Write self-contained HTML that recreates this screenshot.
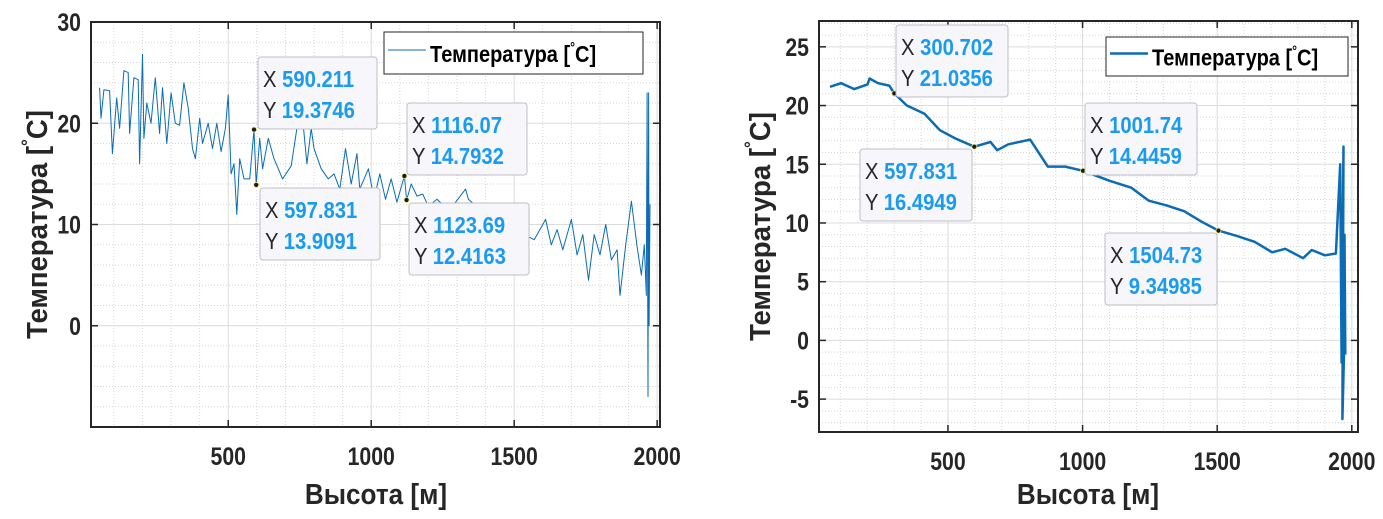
<!DOCTYPE html>
<html><head><meta charset="utf-8"><style>
body{margin:0;background:#fff;width:1383px;height:514px;overflow:hidden;font-family:"Liberation Sans",sans-serif}
svg text{font-family:"Liberation Sans",sans-serif}
</style></head><body>
<svg id="s" width="1383" height="514" xmlns="http://www.w3.org/2000/svg"></svg>
<script>
// Left chart data
const leftX=[50,55,65,85,95,110,120,135,150,155,170,185,190,200,205,215,230,245,260,270,285,300,315,330,345,360,375,385,400,410,430,445,460,475,490,500,510,520,530,540,555,575,590.211,597.831,610,620,640,660,690,720,740,760,775,790,800,825,850,870,890,910,930,950,960,990,1010,1030,1050,1070,1090,1116.07,1123.69,1140,1160,1180,1200,1230,1260,1290,1330,1340,1400,1450,1500,1570,1590,1610,1630,1650,1670,1700,1720,1740,1760,1780,1800,1820,1840,1860,1870,1890,1910,1920,1930,1945,1955,1962,1965,1968,1970,1972,1975];
const leftY=[23.5,20.5,23.3,23.2,17,22.5,19.5,25.2,25,19,24.5,24.3,16,26.8,18.5,22,20,24.5,19,23.5,18,23,20,19.8,24,21.5,17.5,16.5,20.5,18,20,17.5,20,17.2,19.5,22.8,15,16,11,16.5,14.5,14.5,19.3746,13.9091,18.5,15.5,18.5,16.5,14.5,15.8,19.5,20.5,16,19.5,17.5,15.5,14.5,15,13.5,17.5,14,17,13.5,15.5,12.5,15,12.5,14.5,12.2,14.7932,12.4163,14,12.8,13,11.8,12.5,11.7,12,13.5,12.5,11,10,9.5,8.5,9.5,10.5,8,9.5,7.5,10.5,7,9,4.5,9,7,10,6.5,7.5,3,8,12.3,10,7.8,5,8,3,23,-7,23,0,12];
const leftTipsX=[590.211,597.831,1116.07,1123.69];
const leftTipsY=[19.3746,13.9091,14.7932,12.4163];
const leftXTicks=[500,1000,1500,2000];
const leftYTicks=[0,10,20,30];
// Right chart data
const rightX=[62,103,152,201,209,240,282,300.702,347,413,470,527,597.831,658,683,724,805,871,936,1001.74,1099,1181,1246,1312,1377,1443,1504.73,1573,1639,1704,1753,1819,1851,1900,1941,1957,1962,1969,1965,1973,1973,1976];
const rightY=[21.6,21.9,21.4,21.8,22.3,21.9,21.7,21.0356,20.0,19.3,17.9,17.2,16.4949,16.9,16.2,16.7,17.1,14.8,14.8,14.4459,13.6,13.0,11.9,11.5,11.0,10.1,9.34985,8.9,8.4,7.5,7.8,7.0,7.7,7.25,7.4,15,-1.9,16.5,-6.7,0.7,9,-1.2];
const rightTipsX=[300.702,597.831,1001.74,1504.73];
const rightTipsY=[21.0356,16.4949,14.4459,9.34985];
const rightXTicks=[500,1000,1500,2000];
const rightYTicks=[-5,0,5,10,15,20,25];

const NS="http://www.w3.org/2000/svg";
const svg=document.getElementById('s');
function mk(tag,attrs,parent){const e=document.createElementNS(NS,tag);for(const k in attrs)e.setAttribute(k,attrs[k]);(parent||svg).appendChild(e);return e;}

function chart(cfg){
  const g=mk('g',{});
  
  
  const sx=v=>cfg.L+(v-cfg.x0)/(cfg.x1-cfg.x0)*(cfg.R-cfg.L);
  const sy=v=>cfg.B-(v-cfg.y0)/(cfg.y1-cfg.y0)*(cfg.B-cfg.T);
  mk('rect',{x:cfg.L,y:cfg.T,width:cfg.R-cfg.L,height:cfg.B-cfg.T,fill:'#fff'},g);
  for(let v=Math.ceil(cfg.x0/100)*100;v<=cfg.x1;v+=100){if(v%500===0)continue;const l=mk('line',{x1:sx(v),x2:sx(v),y1:cfg.T,y2:cfg.B,stroke:'#d6d6d6','stroke-width':1,'stroke-dasharray':'1,2'},g);}
  for(let v=Math.ceil(cfg.y0/cfg.ym)*cfg.ym;v<=cfg.y1;v+=cfg.ym){if(Math.abs(v%cfg.yM)<1e-9)continue;const l=mk('line',{x1:cfg.L,x2:cfg.R,y1:sy(v),y2:sy(v),stroke:'#d6d6d6','stroke-width':1,'stroke-dasharray':'1,2'},g);}
  cfg.xt.forEach(v=>{
    const l=mk('line',{x1:sx(v),x2:sx(v),y1:cfg.T,y2:cfg.B,stroke:'#dcdcdc','stroke-width':1},g);
    
    
    mk('line',{x1:sx(v),x2:sx(v),y1:cfg.B,y2:cfg.B-7,stroke:'#262626','stroke-width':1.5},g);
    mk('line',{x1:sx(v),x2:sx(v),y1:cfg.T,y2:cfg.T+7,stroke:'#262626','stroke-width':1.5},g);
    const t=mk('text',{x:0,y:0,'text-anchor':'middle','font-size':25,'font-weight':'bold',fill:'#262626',transform:'translate('+sx(v)+','+(cfg.B+38)+') scale(0.85,1)'},g);
    t.textContent=v;
    
    
  });
  cfg.yt.forEach(v=>{
    const l=mk('line',{x1:cfg.L,x2:cfg.R,y1:sy(v),y2:sy(v),stroke:'#dcdcdc','stroke-width':1},g);
    
    
    mk('line',{x1:cfg.L,x2:cfg.L+7,y1:sy(v),y2:sy(v),stroke:'#262626','stroke-width':1.5},g);
    mk('line',{x1:cfg.R,x2:cfg.R-7,y1:sy(v),y2:sy(v),stroke:'#262626','stroke-width':1.5},g);
    const t=mk('text',{x:0,y:0,'text-anchor':'end','font-size':25,'font-weight':'bold',fill:'#262626',transform:'translate('+(cfg.L-10)+','+(sy(v)+9)+') scale(0.85,1)'},g);
    t.textContent=v;
    
    
  });
  const pts=cfg.X.map((x,i)=>sx(x).toFixed(1)+','+sy(cfg.Y[i]).toFixed(1)).join(' ');
  const pl=mk('polyline',{points:pts,fill:'none',stroke:'#0b6cb3','stroke-width':cfg.lw,'stroke-linejoin':'round'},g);
  
  
  const bx=mk('rect',{x:cfg.L,y:cfg.T,width:cfg.R-cfg.L,height:cfg.B-cfg.T,fill:'none',stroke:'#262626','stroke-width':2},g);
  
  
  cfg.tx.forEach((x,i)=>{
    const d=mk('circle',{cx:sx(x),cy:sy(cfg.ty[i]),r:2.5,fill:'#1a1a1a',stroke:'#e8e070','stroke-width':0.8},g);
    
    
    const b=cfg.boxes[i];
    const tg=mk('g',{},g);
    
    
    mk('rect',{x:b[0],y:b[1],width:b[2],height:72,rx:3,fill:'#f6f6fb',stroke:'#bfbfc4','stroke-width':1},tg);
    const t1=mk('text',{x:0,y:0,'font-size':23,fill:'#262626',transform:'translate('+(b[0]+5)+','+(b[1]+30)+') scale(0.88,1)'},tg);
    t1.innerHTML='X <tspan font-weight="bold" fill="#1a9bf0">'+x+'</tspan>';
    const t2=mk('text',{x:0,y:0,'font-size':23,fill:'#262626',transform:'translate('+(b[0]+5)+','+(b[1]+61)+') scale(0.88,1)'},tg);
    t2.innerHTML='Y <tspan font-weight="bold" fill="#1a9bf0">'+cfg.ty[i]+'</tspan>';
  });
  const lg=mk('g',{},g);
  
  
  const [lx,ly,lw2,lh]=cfg.leg;
  mk('rect',{x:lx,y:ly,width:lw2,height:lh,fill:'#fff',stroke:'#262626','stroke-width':1},lg);
  mk('line',{x1:lx+4,x2:lx+42,y1:ly+lh/2-3,y2:ly+lh/2-3,stroke:'#0b6cb3','stroke-width':cfg.lw},lg);
  const lt=mk('text',{x:0,y:0,'font-size':23,'font-weight':'bold',fill:'#000',transform:'translate('+(lx+46)+','+(ly+lh/2+9)+') scale(0.87,1)'},lg);
  lt.innerHTML='Температура [<tspan dy="-10" font-size="14">°</tspan><tspan dy="10">C]</tspan>';
  const xl=mk('text',{x:0,y:0,'text-anchor':'middle','font-size':29,'font-weight':'bold',fill:'#262626',transform:'translate('+cfg.xlx+',504) scale(0.9,1)'},g);
  xl.textContent='Высота [м]';
  
  
  const yl=mk('text',{x:0,y:0,'text-anchor':'middle','font-size':29,'font-weight':'bold',fill:'#262626',transform:'translate('+cfg.ylx+','+((cfg.T+cfg.B)/2)+') rotate(-90) scale(0.95,1)'},g);
  yl.innerHTML='Температура [<tspan dy="-13" font-size="18">°</tspan><tspan dy="13">C]</tspan>';
  
  
}

chart({name:'left-chart',L:91,R:660,T:22,B:427,x0:20,x1:2010,y0:-10,y1:30,ym:2,yM:10,
  xt:leftXTicks,yt:leftYTicks,X:leftX,Y:leftY,lw:1,tx:leftTipsX,ty:leftTipsY,
  boxes:[[258,57,119],[260,188,120],[407,103,120],[409,203,120]],leg:[384,32,259,42],xlx:376,ylx:47});
chart({name:'right-chart',L:819,R:1358,T:21,B:432,x0:21,x1:2023,y0:-7.8,y1:27.2,ym:1,yM:5,
  xt:rightXTicks,yt:rightYTicks,X:rightX,Y:rightY,lw:2.5,tx:rightTipsX,ty:rightTipsY,
  boxes:[[896,25,112],[860,149,112],[1085,103,112],[1105,233,112]],leg:[1106,37,242,39],xlx:1088,ylx:770});
</script>
</body></html>
